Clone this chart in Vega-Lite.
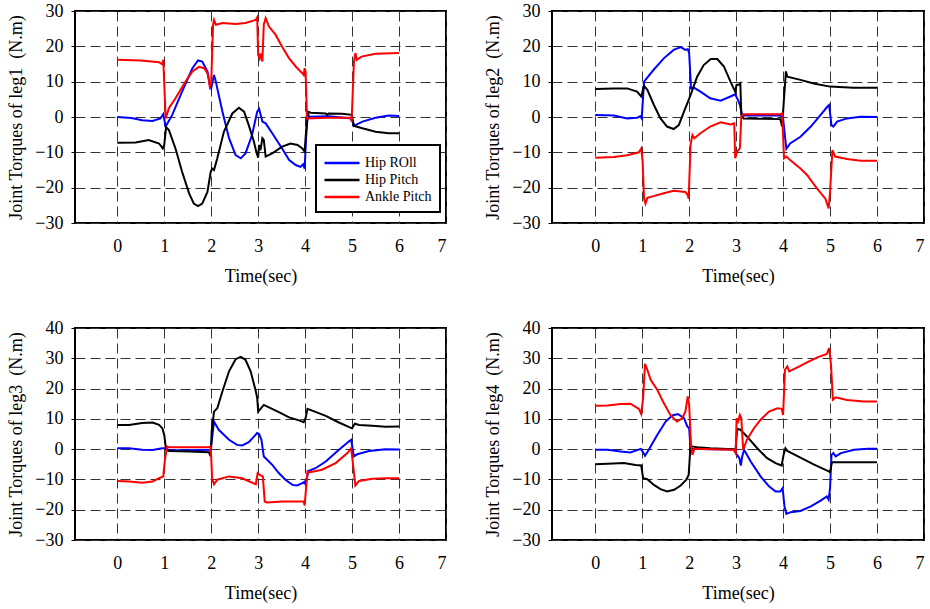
{
"$schema": "https://vega.github.io/schema/vega-lite/v6.json",
"padding": {"left": 5, "top": 1, "right": 0, "bottom": 0},
"background": "white",
"columns": 2,
"spacing": {"row": 105, "column": 106},
"bounds": "flush",
"resolve": {"legend": {"color": "independent"}},
"config": {
  "font": "Liberation Serif",
  "view": {"stroke": "black", "strokeWidth": 2},
  "legend": {"strokeWidth": 2},
  "axis": {"labelFont": "Liberation Serif", "labelFontSize": 18, "labelColor": "black", "titleFont": "Liberation Serif", "titleFontSize": 18, "titleFontWeight": "normal", "titleColor": "black", "domain": false, "grid": true, "gridColor": "#333333", "gridDash": [10, 5], "gridWidth": 1, "gridOpacity": 1, "tickColor": "black"}
},
"data": {"values": [
{"g":"leg1","s":"Hip ROll","t":0,"v":0},{"g":"leg1","s":"Hip ROll","t":0.3,"v":-0.3},{"g":"leg1","s":"Hip ROll","t":0.53,"v":-0.9},{"g":"leg1","s":"Hip ROll","t":0.75,"v":-1.1},{"g":"leg1","s":"Hip ROll","t":0.92,"v":-0.4},{"g":"leg1","s":"Hip ROll","t":0.98,"v":0.8},{"g":"leg1","s":"Hip ROll","t":1.03,"v":-2.7},{"g":"leg1","s":"Hip ROll","t":1.17,"v":0.6},{"g":"leg1","s":"Hip ROll","t":1.38,"v":7.2},{"g":"leg1","s":"Hip ROll","t":1.6,"v":13.8},{"g":"leg1","s":"Hip ROll","t":1.72,"v":16},{"g":"leg1","s":"Hip ROll","t":1.81,"v":15.7},{"g":"leg1","s":"Hip ROll","t":1.92,"v":12.9},{"g":"leg1","s":"Hip ROll","t":1.97,"v":9.1},{"g":"leg1","s":"Hip ROll","t":2.0,"v":8.1},{"g":"leg1","s":"Hip ROll","t":2.06,"v":11.9},{"g":"leg1","s":"Hip ROll","t":2.09,"v":10.5},{"g":"leg1","s":"Hip ROll","t":2.24,"v":1.5},{"g":"leg1","s":"Hip ROll","t":2.38,"v":-6},{"g":"leg1","s":"Hip ROll","t":2.52,"v":-10.8},{"g":"leg1","s":"Hip ROll","t":2.63,"v":-11.7},{"g":"leg1","s":"Hip ROll","t":2.73,"v":-10.3},{"g":"leg1","s":"Hip ROll","t":2.87,"v":-5.1},{"g":"leg1","s":"Hip ROll","t":2.98,"v":1.5},{"g":"leg1","s":"Hip ROll","t":3.02,"v":2.3},{"g":"leg1","s":"Hip ROll","t":3.09,"v":-1.3},{"g":"leg1","s":"Hip ROll","t":3.16,"v":-1.8},{"g":"leg1","s":"Hip ROll","t":3.3,"v":-4.6},{"g":"leg1","s":"Hip ROll","t":3.51,"v":-8.9},{"g":"leg1","s":"Hip ROll","t":3.66,"v":-12.2},{"g":"leg1","s":"Hip ROll","t":3.8,"v":-13.6},{"g":"leg1","s":"Hip ROll","t":3.9,"v":-14.1},{"g":"leg1","s":"Hip ROll","t":3.96,"v":-13.4},{"g":"leg1","s":"Hip ROll","t":3.99,"v":-14.6},{"g":"leg1","s":"Hip ROll","t":4.02,"v":-6},{"g":"leg1","s":"Hip ROll","t":4.06,"v":1.5},{"g":"leg1","s":"Hip ROll","t":4.08,"v":0.1},{"g":"leg1","s":"Hip ROll","t":4.5,"v":0.2},{"g":"leg1","s":"Hip ROll","t":4.99,"v":-0.4},{"g":"leg1","s":"Hip ROll","t":5.04,"v":-2.5},{"g":"leg1","s":"Hip ROll","t":5.22,"v":-1.3},{"g":"leg1","s":"Hip ROll","t":5.5,"v":-0.2},{"g":"leg1","s":"Hip ROll","t":5.78,"v":0.4},{"g":"leg1","s":"Hip ROll","t":6.0,"v":0.3},
{"g":"leg1","s":"Hip Pitch","t":0,"v":-7.3},{"g":"leg1","s":"Hip Pitch","t":0.39,"v":-7.2},{"g":"leg1","s":"Hip Pitch","t":0.67,"v":-6.5},{"g":"leg1","s":"Hip Pitch","t":0.89,"v":-7.5},{"g":"leg1","s":"Hip Pitch","t":0.97,"v":-8.9},{"g":"leg1","s":"Hip Pitch","t":1.0,"v":-7.9},{"g":"leg1","s":"Hip Pitch","t":1.04,"v":-2.9},{"g":"leg1","s":"Hip Pitch","t":1.1,"v":-3.7},{"g":"leg1","s":"Hip Pitch","t":1.24,"v":-8.9},{"g":"leg1","s":"Hip Pitch","t":1.38,"v":-15.5},{"g":"leg1","s":"Hip Pitch","t":1.53,"v":-21.6},{"g":"leg1","s":"Hip Pitch","t":1.63,"v":-24.5},{"g":"leg1","s":"Hip Pitch","t":1.72,"v":-25.2},{"g":"leg1","s":"Hip Pitch","t":1.81,"v":-24.5},{"g":"leg1","s":"Hip Pitch","t":1.92,"v":-21.2},{"g":"leg1","s":"Hip Pitch","t":1.99,"v":-15.5},{"g":"leg1","s":"Hip Pitch","t":2.02,"v":-14.6},{"g":"leg1","s":"Hip Pitch","t":2.06,"v":-15},{"g":"leg1","s":"Hip Pitch","t":2.13,"v":-11.7},{"g":"leg1","s":"Hip Pitch","t":2.27,"v":-4.2},{"g":"leg1","s":"Hip Pitch","t":2.45,"v":1},{"g":"leg1","s":"Hip Pitch","t":2.59,"v":2.6},{"g":"leg1","s":"Hip Pitch","t":2.7,"v":1.5},{"g":"leg1","s":"Hip Pitch","t":2.8,"v":-2.3},{"g":"leg1","s":"Hip Pitch","t":2.91,"v":-7},{"g":"leg1","s":"Hip Pitch","t":2.96,"v":-9.8},{"g":"leg1","s":"Hip Pitch","t":3.0,"v":-11.5},{"g":"leg1","s":"Hip Pitch","t":3.02,"v":-7.9},{"g":"leg1","s":"Hip Pitch","t":3.05,"v":-9.4},{"g":"leg1","s":"Hip Pitch","t":3.09,"v":-6},{"g":"leg1","s":"Hip Pitch","t":3.12,"v":-6.5},{"g":"leg1","s":"Hip Pitch","t":3.16,"v":-11.2},{"g":"leg1","s":"Hip Pitch","t":3.3,"v":-10.3},{"g":"leg1","s":"Hip Pitch","t":3.51,"v":-8.4},{"g":"leg1","s":"Hip Pitch","t":3.69,"v":-7.5},{"g":"leg1","s":"Hip Pitch","t":3.84,"v":-7.9},{"g":"leg1","s":"Hip Pitch","t":3.94,"v":-8.9},{"g":"leg1","s":"Hip Pitch","t":3.99,"v":-9.8},{"g":"leg1","s":"Hip Pitch","t":4.02,"v":-4.2},{"g":"leg1","s":"Hip Pitch","t":4.06,"v":1.5},{"g":"leg1","s":"Hip Pitch","t":4.12,"v":1.2},{"g":"leg1","s":"Hip Pitch","t":4.44,"v":1},{"g":"leg1","s":"Hip Pitch","t":4.47,"v":0.6},{"g":"leg1","s":"Hip Pitch","t":4.5,"v":1},{"g":"leg1","s":"Hip Pitch","t":4.79,"v":0.9},{"g":"leg1","s":"Hip Pitch","t":4.99,"v":0.6},{"g":"leg1","s":"Hip Pitch","t":5.04,"v":-2.5},{"g":"leg1","s":"Hip Pitch","t":5.22,"v":-3.2},{"g":"leg1","s":"Hip Pitch","t":5.5,"v":-4.2},{"g":"leg1","s":"Hip Pitch","t":5.78,"v":-4.6},{"g":"leg1","s":"Hip Pitch","t":6.0,"v":-4.6},
{"g":"leg1","s":"Ankle Pitch","t":0,"v":16.2},{"g":"leg1","s":"Ankle Pitch","t":0.5,"v":16},{"g":"leg1","s":"Ankle Pitch","t":0.89,"v":15.5},{"g":"leg1","s":"Ankle Pitch","t":0.96,"v":14.9},{"g":"leg1","s":"Ankle Pitch","t":0.98,"v":16.2},{"g":"leg1","s":"Ankle Pitch","t":1.03,"v":-0.4},{"g":"leg1","s":"Ankle Pitch","t":1.1,"v":2.5},{"g":"leg1","s":"Ankle Pitch","t":1.24,"v":5.3},{"g":"leg1","s":"Ankle Pitch","t":1.45,"v":10},{"g":"leg1","s":"Ankle Pitch","t":1.6,"v":12.9},{"g":"leg1","s":"Ankle Pitch","t":1.74,"v":14.2},{"g":"leg1","s":"Ankle Pitch","t":1.85,"v":13.8},{"g":"leg1","s":"Ankle Pitch","t":1.92,"v":12.4},{"g":"leg1","s":"Ankle Pitch","t":1.95,"v":10.5},{"g":"leg1","s":"Ankle Pitch","t":1.97,"v":8.6},{"g":"leg1","s":"Ankle Pitch","t":2.0,"v":9.5},{"g":"leg1","s":"Ankle Pitch","t":2.04,"v":26.1},{"g":"leg1","s":"Ankle Pitch","t":2.06,"v":27.5},{"g":"leg1","s":"Ankle Pitch","t":2.1,"v":26.1},{"g":"leg1","s":"Ankle Pitch","t":2.24,"v":26.6},{"g":"leg1","s":"Ankle Pitch","t":2.52,"v":26.3},{"g":"leg1","s":"Ankle Pitch","t":2.73,"v":26.6},{"g":"leg1","s":"Ankle Pitch","t":2.95,"v":27.5},{"g":"leg1","s":"Ankle Pitch","t":2.98,"v":28.2},{"g":"leg1","s":"Ankle Pitch","t":3.0,"v":17.6},{"g":"leg1","s":"Ankle Pitch","t":3.03,"v":16.6},{"g":"leg1","s":"Ankle Pitch","t":3.05,"v":18},{"g":"leg1","s":"Ankle Pitch","t":3.09,"v":15.7},{"g":"leg1","s":"Ankle Pitch","t":3.12,"v":26.1},{"g":"leg1","s":"Ankle Pitch","t":3.16,"v":28},{"g":"leg1","s":"Ankle Pitch","t":3.23,"v":25.6},{"g":"leg1","s":"Ankle Pitch","t":3.37,"v":23.3},{"g":"leg1","s":"Ankle Pitch","t":3.51,"v":19.9},{"g":"leg1","s":"Ankle Pitch","t":3.66,"v":16.6},{"g":"leg1","s":"Ankle Pitch","t":3.8,"v":14.3},{"g":"leg1","s":"Ankle Pitch","t":3.94,"v":12.4},{"g":"leg1","s":"Ankle Pitch","t":3.97,"v":11.9},{"g":"leg1","s":"Ankle Pitch","t":3.99,"v":13.8},{"g":"leg1","s":"Ankle Pitch","t":4.01,"v":12.9},{"g":"leg1","s":"Ankle Pitch","t":4.04,"v":-0.4},{"g":"leg1","s":"Ankle Pitch","t":4.5,"v":-0.2},{"g":"leg1","s":"Ankle Pitch","t":4.97,"v":-0.2},{"g":"leg1","s":"Ankle Pitch","t":4.99,"v":-1.3},{"g":"leg1","s":"Ankle Pitch","t":5.04,"v":15.7},{"g":"leg1","s":"Ankle Pitch","t":5.07,"v":18.1},{"g":"leg1","s":"Ankle Pitch","t":5.1,"v":16.2},{"g":"leg1","s":"Ankle Pitch","t":5.2,"v":17.1},{"g":"leg1","s":"Ankle Pitch","t":5.5,"v":17.9},{"g":"leg1","s":"Ankle Pitch","t":6.0,"v":18.1},
{"g":"leg2","s":"Hip ROll","t":0,"v":0.6},{"g":"leg2","s":"Hip ROll","t":0.4,"v":0.4},{"g":"leg2","s":"Hip ROll","t":0.68,"v":-0.4},{"g":"leg2","s":"Hip ROll","t":0.89,"v":-0.2},{"g":"leg2","s":"Hip ROll","t":0.96,"v":0.2},{"g":"leg2","s":"Hip ROll","t":0.99,"v":-0.4},{"g":"leg2","s":"Hip ROll","t":1.04,"v":10},{"g":"leg2","s":"Hip ROll","t":1.1,"v":11},{"g":"leg2","s":"Hip ROll","t":1.24,"v":13.3},{"g":"leg2","s":"Hip ROll","t":1.46,"v":16.6},{"g":"leg2","s":"Hip ROll","t":1.67,"v":19},{"g":"leg2","s":"Hip ROll","t":1.82,"v":19.8},{"g":"leg2","s":"Hip ROll","t":1.92,"v":19},{"g":"leg2","s":"Hip ROll","t":1.97,"v":19.2},{"g":"leg2","s":"Hip ROll","t":2.0,"v":18.1},{"g":"leg2","s":"Hip ROll","t":2.04,"v":8.1},{"g":"leg2","s":"Hip ROll","t":2.1,"v":8.3},{"g":"leg2","s":"Hip ROll","t":2.24,"v":7.2},{"g":"leg2","s":"Hip ROll","t":2.45,"v":5.3},{"g":"leg2","s":"Hip ROll","t":2.67,"v":4.6},{"g":"leg2","s":"Hip ROll","t":2.88,"v":5.8},{"g":"leg2","s":"Hip ROll","t":2.98,"v":6.4},{"g":"leg2","s":"Hip ROll","t":3.04,"v":4.8},{"g":"leg2","s":"Hip ROll","t":3.08,"v":3.4},{"g":"leg2","s":"Hip ROll","t":3.13,"v":0.4},{"g":"leg2","s":"Hip ROll","t":3.5,"v":0.4},{"g":"leg2","s":"Hip ROll","t":3.94,"v":0.4},{"g":"leg2","s":"Hip ROll","t":4.0,"v":-0.4},{"g":"leg2","s":"Hip ROll","t":4.06,"v":-7.9},{"g":"leg2","s":"Hip ROll","t":4.07,"v":-9},{"g":"leg2","s":"Hip ROll","t":4.15,"v":-7.5},{"g":"leg2","s":"Hip ROll","t":4.37,"v":-5.6},{"g":"leg2","s":"Hip ROll","t":4.59,"v":-2.7},{"g":"leg2","s":"Hip ROll","t":4.8,"v":0.6},{"g":"leg2","s":"Hip ROll","t":4.94,"v":2.9},{"g":"leg2","s":"Hip ROll","t":4.98,"v":3.4},{"g":"leg2","s":"Hip ROll","t":5.03,"v":-2.3},{"g":"leg2","s":"Hip ROll","t":5.07,"v":-2.7},{"g":"leg2","s":"Hip ROll","t":5.15,"v":-1.3},{"g":"leg2","s":"Hip ROll","t":5.36,"v":-0.4},{"g":"leg2","s":"Hip ROll","t":5.65,"v":0.1},{"g":"leg2","s":"Hip ROll","t":6.0,"v":0},
{"g":"leg2","s":"Hip Pitch","t":0,"v":7.9},{"g":"leg2","s":"Hip Pitch","t":0.4,"v":8.1},{"g":"leg2","s":"Hip Pitch","t":0.68,"v":8.1},{"g":"leg2","s":"Hip Pitch","t":0.89,"v":7.2},{"g":"leg2","s":"Hip Pitch","t":0.98,"v":5.8},{"g":"leg2","s":"Hip Pitch","t":1.04,"v":8.8},{"g":"leg2","s":"Hip Pitch","t":1.11,"v":7.7},{"g":"leg2","s":"Hip Pitch","t":1.25,"v":3.4},{"g":"leg2","s":"Hip Pitch","t":1.39,"v":-0.4},{"g":"leg2","s":"Hip Pitch","t":1.53,"v":-2.7},{"g":"leg2","s":"Hip Pitch","t":1.67,"v":-3.4},{"g":"leg2","s":"Hip Pitch","t":1.78,"v":-2.3},{"g":"leg2","s":"Hip Pitch","t":1.89,"v":1.5},{"g":"leg2","s":"Hip Pitch","t":2.03,"v":6.2},{"g":"leg2","s":"Hip Pitch","t":2.17,"v":11.4},{"g":"leg2","s":"Hip Pitch","t":2.31,"v":14.7},{"g":"leg2","s":"Hip Pitch","t":2.46,"v":16.4},{"g":"leg2","s":"Hip Pitch","t":2.6,"v":16.4},{"g":"leg2","s":"Hip Pitch","t":2.74,"v":14.3},{"g":"leg2","s":"Hip Pitch","t":2.88,"v":10},{"g":"leg2","s":"Hip Pitch","t":2.98,"v":7.2},{"g":"leg2","s":"Hip Pitch","t":3.01,"v":9.1},{"g":"leg2","s":"Hip Pitch","t":3.06,"v":9.1},{"g":"leg2","s":"Hip Pitch","t":3.09,"v":9.5},{"g":"leg2","s":"Hip Pitch","t":3.11,"v":0.6},{"g":"leg2","s":"Hip Pitch","t":3.16,"v":-0.4},{"g":"leg2","s":"Hip Pitch","t":3.5,"v":-0.5},{"g":"leg2","s":"Hip Pitch","t":3.94,"v":-0.6},{"g":"leg2","s":"Hip Pitch","t":3.98,"v":-2.7},{"g":"leg2","s":"Hip Pitch","t":4.01,"v":3.4},{"g":"leg2","s":"Hip Pitch","t":4.06,"v":12.9},{"g":"leg2","s":"Hip Pitch","t":4.09,"v":11.4},{"g":"leg2","s":"Hip Pitch","t":4.37,"v":10.5},{"g":"leg2","s":"Hip Pitch","t":4.65,"v":9.5},{"g":"leg2","s":"Hip Pitch","t":5.0,"v":8.6},{"g":"leg2","s":"Hip Pitch","t":5.5,"v":8.3},{"g":"leg2","s":"Hip Pitch","t":6.0,"v":8.3},
{"g":"leg2","s":"Ankle Pitch","t":0,"v":-11.5},{"g":"leg2","s":"Ankle Pitch","t":0.4,"v":-11.3},{"g":"leg2","s":"Ankle Pitch","t":0.68,"v":-10.8},{"g":"leg2","s":"Ankle Pitch","t":0.93,"v":-10},{"g":"leg2","s":"Ankle Pitch","t":0.98,"v":-8.9},{"g":"leg2","s":"Ankle Pitch","t":1.01,"v":-12.7},{"g":"leg2","s":"Ankle Pitch","t":1.04,"v":-23.1},{"g":"leg2","s":"Ankle Pitch","t":1.07,"v":-24.5},{"g":"leg2","s":"Ankle Pitch","t":1.11,"v":-22.9},{"g":"leg2","s":"Ankle Pitch","t":1.24,"v":-22.4},{"g":"leg2","s":"Ankle Pitch","t":1.46,"v":-21.6},{"g":"leg2","s":"Ankle Pitch","t":1.67,"v":-20.9},{"g":"leg2","s":"Ankle Pitch","t":1.92,"v":-21.2},{"g":"leg2","s":"Ankle Pitch","t":1.97,"v":-22.1},{"g":"leg2","s":"Ankle Pitch","t":1.99,"v":-23.1},{"g":"leg2","s":"Ankle Pitch","t":2.03,"v":-7.9},{"g":"leg2","s":"Ankle Pitch","t":2.07,"v":-5.1},{"g":"leg2","s":"Ankle Pitch","t":2.11,"v":-6},{"g":"leg2","s":"Ankle Pitch","t":2.24,"v":-4.6},{"g":"leg2","s":"Ankle Pitch","t":2.45,"v":-2.7},{"g":"leg2","s":"Ankle Pitch","t":2.67,"v":-1.5},{"g":"leg2","s":"Ankle Pitch","t":2.88,"v":-2.1},{"g":"leg2","s":"Ankle Pitch","t":2.96,"v":-1.8},{"g":"leg2","s":"Ankle Pitch","t":2.98,"v":-11.7},{"g":"leg2","s":"Ankle Pitch","t":3.02,"v":-9.8},{"g":"leg2","s":"Ankle Pitch","t":3.08,"v":-8.9},{"g":"leg2","s":"Ankle Pitch","t":3.11,"v":0.1},{"g":"leg2","s":"Ankle Pitch","t":3.16,"v":0.8},{"g":"leg2","s":"Ankle Pitch","t":3.5,"v":0.8},{"g":"leg2","s":"Ankle Pitch","t":3.94,"v":0.8},{"g":"leg2","s":"Ankle Pitch","t":3.98,"v":1},{"g":"leg2","s":"Ankle Pitch","t":4.02,"v":-11.7},{"g":"leg2","s":"Ankle Pitch","t":4.07,"v":-11.2},{"g":"leg2","s":"Ankle Pitch","t":4.15,"v":-12.2},{"g":"leg2","s":"Ankle Pitch","t":4.37,"v":-14.6},{"g":"leg2","s":"Ankle Pitch","t":4.51,"v":-16.4},{"g":"leg2","s":"Ankle Pitch","t":4.72,"v":-20.2},{"g":"leg2","s":"Ankle Pitch","t":4.9,"v":-23.1},{"g":"leg2","s":"Ankle Pitch","t":4.97,"v":-25.9},{"g":"leg2","s":"Ankle Pitch","t":5.0,"v":-21.2},{"g":"leg2","s":"Ankle Pitch","t":5.05,"v":-9.4},{"g":"leg2","s":"Ankle Pitch","t":5.11,"v":-11.2},{"g":"leg2","s":"Ankle Pitch","t":5.36,"v":-11.9},{"g":"leg2","s":"Ankle Pitch","t":5.65,"v":-12.4},{"g":"leg2","s":"Ankle Pitch","t":6.0,"v":-12.4},
{"g":"leg3","s":"Hip ROll","t":0,"v":0.3},{"g":"leg3","s":"Hip ROll","t":0.25,"v":0.3},{"g":"leg3","s":"Hip ROll","t":0.53,"v":-0.2},{"g":"leg3","s":"Hip ROll","t":0.75,"v":-0.3},{"g":"leg3","s":"Hip ROll","t":0.96,"v":0.3},{"g":"leg3","s":"Hip ROll","t":1.03,"v":0.3},{"g":"leg3","s":"Hip ROll","t":1.1,"v":-0.3},{"g":"leg3","s":"Hip ROll","t":1.5,"v":-0.4},{"g":"leg3","s":"Hip ROll","t":1.99,"v":-0.2},{"g":"leg3","s":"Hip ROll","t":2.06,"v":9.1},{"g":"leg3","s":"Hip ROll","t":2.16,"v":6.4},{"g":"leg3","s":"Hip ROll","t":2.38,"v":3.1},{"g":"leg3","s":"Hip ROll","t":2.55,"v":1.4},{"g":"leg3","s":"Hip ROll","t":2.66,"v":1.2},{"g":"leg3","s":"Hip ROll","t":2.8,"v":2.3},{"g":"leg3","s":"Hip ROll","t":2.98,"v":5.3},{"g":"leg3","s":"Hip ROll","t":3.02,"v":5},{"g":"leg3","s":"Hip ROll","t":3.07,"v":3.1},{"g":"leg3","s":"Hip ROll","t":3.12,"v":-2.4},{"g":"leg3","s":"Hip ROll","t":3.16,"v":-3},{"g":"leg3","s":"Hip ROll","t":3.3,"v":-5.2},{"g":"leg3","s":"Hip ROll","t":3.44,"v":-7.9},{"g":"leg3","s":"Hip ROll","t":3.58,"v":-10.1},{"g":"leg3","s":"Hip ROll","t":3.73,"v":-11.8},{"g":"leg3","s":"Hip ROll","t":3.83,"v":-12},{"g":"leg3","s":"Hip ROll","t":3.94,"v":-11.2},{"g":"leg3","s":"Hip ROll","t":3.99,"v":-10.7},{"g":"leg3","s":"Hip ROll","t":4.01,"v":-11.8},{"g":"leg3","s":"Hip ROll","t":4.07,"v":-7.2},{"g":"leg3","s":"Hip ROll","t":4.22,"v":-6.3},{"g":"leg3","s":"Hip ROll","t":4.44,"v":-4.1},{"g":"leg3","s":"Hip ROll","t":4.72,"v":-0.2},{"g":"leg3","s":"Hip ROll","t":4.93,"v":2.5},{"g":"leg3","s":"Hip ROll","t":4.98,"v":3.1},{"g":"leg3","s":"Hip ROll","t":5.04,"v":-2.4},{"g":"leg3","s":"Hip ROll","t":5.11,"v":-1.7},{"g":"leg3","s":"Hip ROll","t":5.36,"v":-0.6},{"g":"leg3","s":"Hip ROll","t":5.71,"v":0},{"g":"leg3","s":"Hip ROll","t":6.0,"v":-0.1},
{"g":"leg3","s":"Hip Pitch","t":0,"v":8},{"g":"leg3","s":"Hip Pitch","t":0.25,"v":8},{"g":"leg3","s":"Hip Pitch","t":0.53,"v":8.6},{"g":"leg3","s":"Hip Pitch","t":0.75,"v":8.8},{"g":"leg3","s":"Hip Pitch","t":0.89,"v":8},{"g":"leg3","s":"Hip Pitch","t":0.96,"v":6.9},{"g":"leg3","s":"Hip Pitch","t":1.0,"v":4.7},{"g":"leg3","s":"Hip Pitch","t":1.04,"v":-0.2},{"g":"leg3","s":"Hip Pitch","t":1.1,"v":-0.6},{"g":"leg3","s":"Hip Pitch","t":1.53,"v":-0.8},{"g":"leg3","s":"Hip Pitch","t":1.95,"v":-1},{"g":"leg3","s":"Hip Pitch","t":1.99,"v":-2.4},{"g":"leg3","s":"Hip Pitch","t":2.01,"v":5.8},{"g":"leg3","s":"Hip Pitch","t":2.06,"v":12.4},{"g":"leg3","s":"Hip Pitch","t":2.13,"v":13.5},{"g":"leg3","s":"Hip Pitch","t":2.24,"v":19.1},{"g":"leg3","s":"Hip Pitch","t":2.38,"v":25.7},{"g":"leg3","s":"Hip Pitch","t":2.52,"v":29.7},{"g":"leg3","s":"Hip Pitch","t":2.63,"v":30.5},{"g":"leg3","s":"Hip Pitch","t":2.73,"v":29.5},{"g":"leg3","s":"Hip Pitch","t":2.84,"v":25.7},{"g":"leg3","s":"Hip Pitch","t":2.95,"v":19.1},{"g":"leg3","s":"Hip Pitch","t":2.98,"v":16.9},{"g":"leg3","s":"Hip Pitch","t":3.0,"v":12.4},{"g":"leg3","s":"Hip Pitch","t":3.05,"v":13.3},{"g":"leg3","s":"Hip Pitch","t":3.12,"v":14.6},{"g":"leg3","s":"Hip Pitch","t":3.23,"v":13.8},{"g":"leg3","s":"Hip Pitch","t":3.44,"v":12.2},{"g":"leg3","s":"Hip Pitch","t":3.66,"v":10.5},{"g":"leg3","s":"Hip Pitch","t":3.87,"v":9.5},{"g":"leg3","s":"Hip Pitch","t":3.97,"v":8.9},{"g":"leg3","s":"Hip Pitch","t":4.01,"v":10.2},{"g":"leg3","s":"Hip Pitch","t":4.05,"v":13.3},{"g":"leg3","s":"Hip Pitch","t":4.15,"v":12.7},{"g":"leg3","s":"Hip Pitch","t":4.44,"v":11},{"g":"leg3","s":"Hip Pitch","t":4.72,"v":8.8},{"g":"leg3","s":"Hip Pitch","t":4.95,"v":7.2},{"g":"leg3","s":"Hip Pitch","t":5.0,"v":6.9},{"g":"leg3","s":"Hip Pitch","t":5.06,"v":8.4},{"g":"leg3","s":"Hip Pitch","t":5.15,"v":8},{"g":"leg3","s":"Hip Pitch","t":5.43,"v":7.7},{"g":"leg3","s":"Hip Pitch","t":5.71,"v":7.4},{"g":"leg3","s":"Hip Pitch","t":6.0,"v":7.5},
{"g":"leg3","s":"Ankle Pitch","t":0,"v":-10.5},{"g":"leg3","s":"Ankle Pitch","t":0.25,"v":-10.7},{"g":"leg3","s":"Ankle Pitch","t":0.53,"v":-11.1},{"g":"leg3","s":"Ankle Pitch","t":0.75,"v":-10.7},{"g":"leg3","s":"Ankle Pitch","t":0.89,"v":-9.6},{"g":"leg3","s":"Ankle Pitch","t":0.98,"v":-9},{"g":"leg3","s":"Ankle Pitch","t":1.01,"v":-4.1},{"g":"leg3","s":"Ankle Pitch","t":1.06,"v":0.9},{"g":"leg3","s":"Ankle Pitch","t":1.1,"v":0.6},{"g":"leg3","s":"Ankle Pitch","t":1.5,"v":0.6},{"g":"leg3","s":"Ankle Pitch","t":1.95,"v":0.6},{"g":"leg3","s":"Ankle Pitch","t":1.99,"v":0.9},{"g":"leg3","s":"Ankle Pitch","t":2.02,"v":-9.6},{"g":"leg3","s":"Ankle Pitch","t":2.06,"v":-11.6},{"g":"leg3","s":"Ankle Pitch","t":2.13,"v":-10.1},{"g":"leg3","s":"Ankle Pitch","t":2.38,"v":-9},{"g":"leg3","s":"Ankle Pitch","t":2.66,"v":-9.6},{"g":"leg3","s":"Ankle Pitch","t":2.95,"v":-11.6},{"g":"leg3","s":"Ankle Pitch","t":2.99,"v":-7.9},{"g":"leg3","s":"Ankle Pitch","t":3.05,"v":-8.7},{"g":"leg3","s":"Ankle Pitch","t":3.1,"v":-9},{"g":"leg3","s":"Ankle Pitch","t":3.14,"v":-17.3},{"g":"leg3","s":"Ankle Pitch","t":3.19,"v":-17.6},{"g":"leg3","s":"Ankle Pitch","t":3.51,"v":-17.3},{"g":"leg3","s":"Ankle Pitch","t":3.97,"v":-17.3},{"g":"leg3","s":"Ankle Pitch","t":3.99,"v":-18.6},{"g":"leg3","s":"Ankle Pitch","t":4.05,"v":-7.4},{"g":"leg3","s":"Ankle Pitch","t":4.08,"v":-7.7},{"g":"leg3","s":"Ankle Pitch","t":4.36,"v":-6.8},{"g":"leg3","s":"Ankle Pitch","t":4.65,"v":-4.6},{"g":"leg3","s":"Ankle Pitch","t":4.9,"v":-1.3},{"g":"leg3","s":"Ankle Pitch","t":4.98,"v":0.3},{"g":"leg3","s":"Ankle Pitch","t":5.03,"v":-6.3},{"g":"leg3","s":"Ankle Pitch","t":5.07,"v":-12},{"g":"leg3","s":"Ankle Pitch","t":5.15,"v":-10.5},{"g":"leg3","s":"Ankle Pitch","t":5.43,"v":-9.8},{"g":"leg3","s":"Ankle Pitch","t":5.71,"v":-9.6},{"g":"leg3","s":"Ankle Pitch","t":6.0,"v":-9.6},
{"g":"leg4","s":"Hip ROll","t":0,"v":-0.2},{"g":"leg4","s":"Hip ROll","t":0.26,"v":-0.2},{"g":"leg4","s":"Hip ROll","t":0.54,"v":-0.8},{"g":"leg4","s":"Hip ROll","t":0.75,"v":-1.1},{"g":"leg4","s":"Hip ROll","t":0.97,"v":0.1},{"g":"leg4","s":"Hip ROll","t":1.01,"v":-0.8},{"g":"leg4","s":"Hip ROll","t":1.06,"v":-2.2},{"g":"leg4","s":"Hip ROll","t":1.14,"v":-0.2},{"g":"leg4","s":"Hip ROll","t":1.32,"v":4.7},{"g":"leg4","s":"Hip ROll","t":1.5,"v":9.1},{"g":"leg4","s":"Hip ROll","t":1.64,"v":11.1},{"g":"leg4","s":"Hip ROll","t":1.76,"v":11.6},{"g":"leg4","s":"Hip ROll","t":1.89,"v":10.2},{"g":"leg4","s":"Hip ROll","t":1.96,"v":7.5},{"g":"leg4","s":"Hip ROll","t":2.0,"v":6.9},{"g":"leg4","s":"Hip ROll","t":2.03,"v":0.1},{"g":"leg4","s":"Hip ROll","t":2.5,"v":0},{"g":"leg4","s":"Hip ROll","t":2.95,"v":-0.1},{"g":"leg4","s":"Hip ROll","t":3.02,"v":-1.9},{"g":"leg4","s":"Hip ROll","t":3.07,"v":-3},{"g":"leg4","s":"Hip ROll","t":3.1,"v":-5.4},{"g":"leg4","s":"Hip ROll","t":3.13,"v":-2.4},{"g":"leg4","s":"Hip ROll","t":3.17,"v":-0.2},{"g":"leg4","s":"Hip ROll","t":3.31,"v":-4.1},{"g":"leg4","s":"Hip ROll","t":3.52,"v":-9},{"g":"leg4","s":"Hip ROll","t":3.7,"v":-12.3},{"g":"leg4","s":"Hip ROll","t":3.84,"v":-14},{"g":"leg4","s":"Hip ROll","t":3.94,"v":-14},{"g":"leg4","s":"Hip ROll","t":3.99,"v":-12.9},{"g":"leg4","s":"Hip ROll","t":4.03,"v":-18.9},{"g":"leg4","s":"Hip ROll","t":4.07,"v":-21.4},{"g":"leg4","s":"Hip ROll","t":4.16,"v":-20.8},{"g":"leg4","s":"Hip ROll","t":4.37,"v":-20.4},{"g":"leg4","s":"Hip ROll","t":4.59,"v":-18.9},{"g":"leg4","s":"Hip ROll","t":4.8,"v":-17},{"g":"leg4","s":"Hip ROll","t":4.93,"v":-15.6},{"g":"leg4","s":"Hip ROll","t":4.97,"v":-16.7},{"g":"leg4","s":"Hip ROll","t":5.0,"v":-12.9},{"g":"leg4","s":"Hip ROll","t":5.03,"v":-1.9},{"g":"leg4","s":"Hip ROll","t":5.07,"v":-1.3},{"g":"leg4","s":"Hip ROll","t":5.12,"v":-2.4},{"g":"leg4","s":"Hip ROll","t":5.23,"v":-1.3},{"g":"leg4","s":"Hip ROll","t":5.51,"v":-0.2},{"g":"leg4","s":"Hip ROll","t":5.8,"v":0.1},{"g":"leg4","s":"Hip ROll","t":6.0,"v":0.1},
{"g":"leg4","s":"Hip Pitch","t":0,"v":-5},{"g":"leg4","s":"Hip Pitch","t":0.26,"v":-4.8},{"g":"leg4","s":"Hip Pitch","t":0.61,"v":-4.6},{"g":"leg4","s":"Hip Pitch","t":0.86,"v":-5.2},{"g":"leg4","s":"Hip Pitch","t":0.98,"v":-5.4},{"g":"leg4","s":"Hip Pitch","t":1.02,"v":-9.6},{"g":"leg4","s":"Hip Pitch","t":1.11,"v":-9.9},{"g":"leg4","s":"Hip Pitch","t":1.25,"v":-11.8},{"g":"leg4","s":"Hip Pitch","t":1.39,"v":-13.2},{"g":"leg4","s":"Hip Pitch","t":1.53,"v":-14},{"g":"leg4","s":"Hip Pitch","t":1.68,"v":-13.4},{"g":"leg4","s":"Hip Pitch","t":1.82,"v":-12},{"g":"leg4","s":"Hip Pitch","t":1.94,"v":-10.1},{"g":"leg4","s":"Hip Pitch","t":1.99,"v":-8.5},{"g":"leg4","s":"Hip Pitch","t":2.03,"v":1.4},{"g":"leg4","s":"Hip Pitch","t":2.06,"v":0.9},{"g":"leg4","s":"Hip Pitch","t":2.17,"v":0.6},{"g":"leg4","s":"Hip Pitch","t":2.45,"v":0.3},{"g":"leg4","s":"Hip Pitch","t":2.95,"v":0},{"g":"leg4","s":"Hip Pitch","t":2.99,"v":-0.2},{"g":"leg4","s":"Hip Pitch","t":3.02,"v":6.7},{"g":"leg4","s":"Hip Pitch","t":3.09,"v":6.4},{"g":"leg4","s":"Hip Pitch","t":3.23,"v":4.2},{"g":"leg4","s":"Hip Pitch","t":3.45,"v":0.3},{"g":"leg4","s":"Hip Pitch","t":3.66,"v":-3},{"g":"leg4","s":"Hip Pitch","t":3.84,"v":-4.6},{"g":"leg4","s":"Hip Pitch","t":3.97,"v":-5.4},{"g":"leg4","s":"Hip Pitch","t":4.01,"v":-1.9},{"g":"leg4","s":"Hip Pitch","t":4.05,"v":0.3},{"g":"leg4","s":"Hip Pitch","t":4.09,"v":-0.6},{"g":"leg4","s":"Hip Pitch","t":4.37,"v":-2.8},{"g":"leg4","s":"Hip Pitch","t":4.65,"v":-5},{"g":"leg4","s":"Hip Pitch","t":4.95,"v":-7.2},{"g":"leg4","s":"Hip Pitch","t":5.0,"v":-7.6},{"g":"leg4","s":"Hip Pitch","t":5.04,"v":-4.3},{"g":"leg4","s":"Hip Pitch","t":5.12,"v":-4.3},{"g":"leg4","s":"Hip Pitch","t":5.51,"v":-4.3},{"g":"leg4","s":"Hip Pitch","t":6.0,"v":-4.3},
{"g":"leg4","s":"Ankle Pitch","t":0,"v":14.3},{"g":"leg4","s":"Ankle Pitch","t":0.26,"v":14.4},{"g":"leg4","s":"Ankle Pitch","t":0.54,"v":14.9},{"g":"leg4","s":"Ankle Pitch","t":0.75,"v":15},{"g":"leg4","s":"Ankle Pitch","t":0.93,"v":13.3},{"g":"leg4","s":"Ankle Pitch","t":0.98,"v":11.6},{"g":"leg4","s":"Ankle Pitch","t":1.02,"v":16.9},{"g":"leg4","s":"Ankle Pitch","t":1.06,"v":28.2},{"g":"leg4","s":"Ankle Pitch","t":1.11,"v":26.2},{"g":"leg4","s":"Ankle Pitch","t":1.18,"v":22.9},{"g":"leg4","s":"Ankle Pitch","t":1.32,"v":19.6},{"g":"leg4","s":"Ankle Pitch","t":1.46,"v":15.2},{"g":"leg4","s":"Ankle Pitch","t":1.6,"v":11.3},{"g":"leg4","s":"Ankle Pitch","t":1.74,"v":9.1},{"g":"leg4","s":"Ankle Pitch","t":1.85,"v":10.2},{"g":"leg4","s":"Ankle Pitch","t":1.92,"v":12.4},{"g":"leg4","s":"Ankle Pitch","t":1.97,"v":17.4},{"g":"leg4","s":"Ankle Pitch","t":2.0,"v":14.6},{"g":"leg4","s":"Ankle Pitch","t":2.04,"v":1.4},{"g":"leg4","s":"Ankle Pitch","t":2.07,"v":-1.9},{"g":"leg4","s":"Ankle Pitch","t":2.11,"v":0.1},{"g":"leg4","s":"Ankle Pitch","t":2.5,"v":0},{"g":"leg4","s":"Ankle Pitch","t":2.95,"v":-0.2},{"g":"leg4","s":"Ankle Pitch","t":2.99,"v":-1.3},{"g":"leg4","s":"Ankle Pitch","t":3.01,"v":10.2},{"g":"leg4","s":"Ankle Pitch","t":3.04,"v":9.1},{"g":"leg4","s":"Ankle Pitch","t":3.08,"v":11.3},{"g":"leg4","s":"Ankle Pitch","t":3.11,"v":10.2},{"g":"leg4","s":"Ankle Pitch","t":3.15,"v":-0.2},{"g":"leg4","s":"Ankle Pitch","t":3.23,"v":3.1},{"g":"leg4","s":"Ankle Pitch","t":3.38,"v":6.9},{"g":"leg4","s":"Ankle Pitch","t":3.52,"v":9.7},{"g":"leg4","s":"Ankle Pitch","t":3.7,"v":12.4},{"g":"leg4","s":"Ankle Pitch","t":3.88,"v":13.5},{"g":"leg4","s":"Ankle Pitch","t":3.97,"v":13.3},{"g":"leg4","s":"Ankle Pitch","t":4.0,"v":11.3},{"g":"leg4","s":"Ankle Pitch","t":4.04,"v":26.2},{"g":"leg4","s":"Ankle Pitch","t":4.09,"v":27.3},{"g":"leg4","s":"Ankle Pitch","t":4.13,"v":25.7},{"g":"leg4","s":"Ankle Pitch","t":4.37,"v":27.5},{"g":"leg4","s":"Ankle Pitch","t":4.52,"v":28.7},{"g":"leg4","s":"Ankle Pitch","t":4.73,"v":30.3},{"g":"leg4","s":"Ankle Pitch","t":4.93,"v":31.4},{"g":"leg4","s":"Ankle Pitch","t":4.98,"v":33.4},{"g":"leg4","s":"Ankle Pitch","t":5.02,"v":27.9},{"g":"leg4","s":"Ankle Pitch","t":5.06,"v":16.3},{"g":"leg4","s":"Ankle Pitch","t":5.12,"v":17.1},{"g":"leg4","s":"Ankle Pitch","t":5.36,"v":16.2},{"g":"leg4","s":"Ankle Pitch","t":5.72,"v":15.7},{"g":"leg4","s":"Ankle Pitch","t":6.0,"v":15.7}
]},
"concat": [
{
  "width": 371, "height": 212,
  "transform": [{"filter": "datum.g === 'leg1'"}],
  "mark": {"type": "line", "strokeWidth": 2},
  "encoding": {
    "x": {"field": "t", "type": "quantitative", "scale": {"domain": [-0.9, 7], "nice": false, "zero": false}, "axis": {"values": [0,1,2,3,4,5,6,7], "title": "Time(sec)", "ticks": false, "labelPadding": 14, "titleY": 44}},
    "y": {"field": "v", "type": "quantitative", "scale": {"domain": [-30, 30], "nice": false}, "axis": {"values": [-30,-20,-10,0,10,20,30], "title": "Joint Torques of leg1\u00a0 (N.m)", "tickSize": 4, "labelPadding": 8, "titleX": -50}},
    "color": {"field": "s", "type": "nominal", "scale": {"domain": ["Hip ROll", "Hip Pitch", "Ankle Pitch"], "range": ["#0000ff", "#000000", "#ff0000"]},
      "legend": {"orient": "none", "legendX": 241, "legendY": 134, "title": null, "strokeColor": "black", "fillColor": "white", "padding": 8, "symbolType": "M-2,0H2", "symbolSize": 306, "symbolOffset": 8, "symbolStrokeWidth": 2.5, "labelOffset": 13, "labelFont": "Liberation Serif", "labelFontSize": 14, "labelColor": "black", "rowPadding": 0}}
  }
},
{
  "width": 372, "height": 212,
  "transform": [{"filter": "datum.g === 'leg2'"}],
  "mark": {"type": "line", "strokeWidth": 2},
  "encoding": {
    "x": {"field": "t", "type": "quantitative", "scale": {"domain": [-0.92, 7], "nice": false, "zero": false}, "axis": {"values": [0,1,2,3,4,5,6,7], "title": "Time(sec)", "ticks": false, "labelPadding": 14, "titleY": 44}},
    "y": {"field": "v", "type": "quantitative", "scale": {"domain": [-30, 30], "nice": false}, "axis": {"values": [-30,-20,-10,0,10,20,30], "title": "Joint Torques of leg2\u00a0 (N.m)", "tickSize": 4, "labelPadding": 8, "titleX": -50}},
    "color": {"field": "s", "type": "nominal", "scale": {"domain": ["Hip ROll", "Hip Pitch", "Ankle Pitch"], "range": ["#0000ff", "#000000", "#ff0000"]}, "legend": null}
  }
},
{
  "width": 371, "height": 212,
  "transform": [{"filter": "datum.g === 'leg3'"}],
  "mark": {"type": "line", "strokeWidth": 2},
  "encoding": {
    "x": {"field": "t", "type": "quantitative", "scale": {"domain": [-0.9, 7], "nice": false, "zero": false}, "axis": {"values": [0,1,2,3,4,5,6,7], "title": "Time(sec)", "ticks": false, "labelPadding": 14, "titleY": 44}},
    "y": {"field": "v", "type": "quantitative", "scale": {"domain": [-30, 40], "nice": false}, "axis": {"values": [-30,-20,-10,0,10,20,30,40], "title": "Joint Torques of leg3\u00a0 (N.m)", "tickSize": 4, "labelPadding": 8, "titleX": -50}},
    "color": {"field": "s", "type": "nominal", "scale": {"domain": ["Hip ROll", "Hip Pitch", "Ankle Pitch"], "range": ["#0000ff", "#000000", "#ff0000"]}, "legend": null}
  }
},
{
  "width": 372, "height": 212,
  "transform": [{"filter": "datum.g === 'leg4'"}],
  "mark": {"type": "line", "strokeWidth": 2},
  "encoding": {
    "x": {"field": "t", "type": "quantitative", "scale": {"domain": [-0.92, 7], "nice": false, "zero": false}, "axis": {"values": [0,1,2,3,4,5,6,7], "title": "Time(sec)", "ticks": false, "labelPadding": 14, "titleY": 44}},
    "y": {"field": "v", "type": "quantitative", "scale": {"domain": [-30, 40], "nice": false}, "axis": {"values": [-30,-20,-10,0,10,20,30,40], "title": "Joint Torques of leg4\u00a0 (N.m)", "tickSize": 4, "labelPadding": 8, "titleX": -50}},
    "color": {"field": "s", "type": "nominal", "scale": {"domain": ["Hip ROll", "Hip Pitch", "Ankle Pitch"], "range": ["#0000ff", "#000000", "#ff0000"]}, "legend": null}
  }
}
]
}
